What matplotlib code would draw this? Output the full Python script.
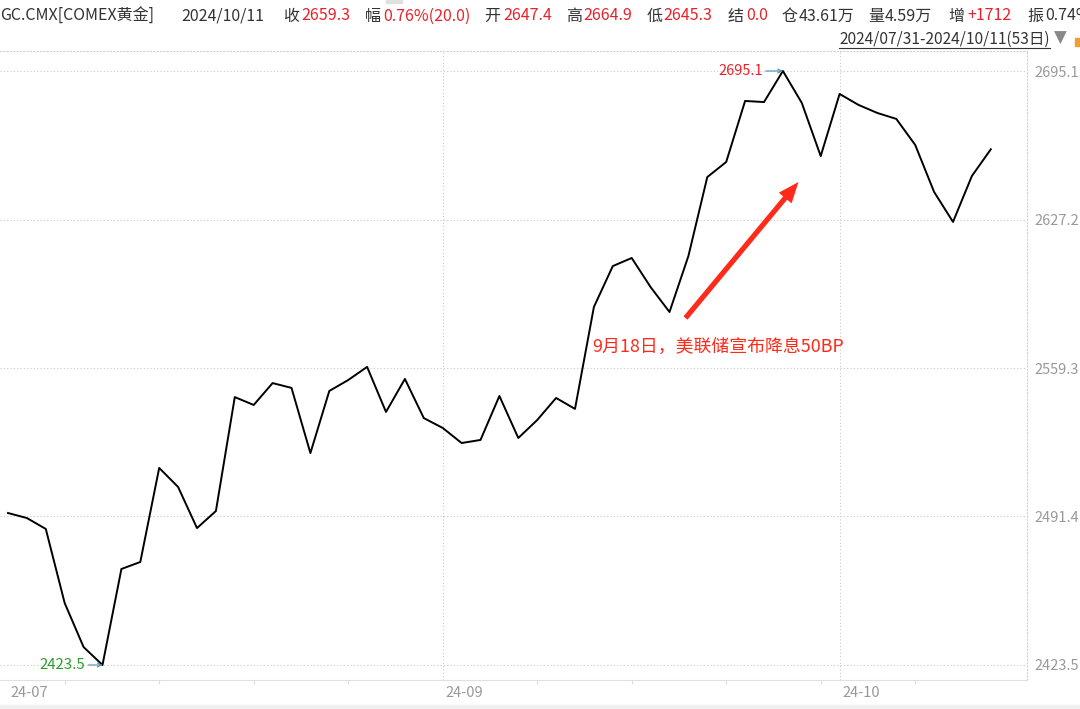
"""
COMEX gold (GC.CMX) daily close, 2024/07/31 - 2024/10/11.
"""

import numpy as np
import pandas as pd
import matplotlib
matplotlib.use('Agg')
import matplotlib.pyplot as plt
import matplotlib.transforms as mtransforms
from matplotlib.patches import Rectangle
from matplotlib.lines import Line2D

plt.rcParams['font.family'] = ['Noto Sans CJK SC', 'DejaVu Sans']

# trading days (53)
dates = pd.bdate_range('2024-07-31', '2024-10-11')
close = [
    2493.0, 2490.7, 2485.7, 2451.8, 2431.7, 2423.5, 2467.4, 2470.6, 2513.6, 2504.9,
    2486.1, 2493.9, 2546.0, 2542.4, 2552.4, 2550.2, 2520.4, 2548.8, 2553.8, 2559.8,
    2539.2, 2554.3, 2536.4, 2531.9, 2525.0, 2526.4, 2546.5, 2527.3, 2535.5, 2545.6,
    2540.6, 2587.2, 2605.9, 2609.6, 2596.3, 2584.9, 2610.5, 2646.6, 2653.5, 2681.4,
    2680.9, 2695.1, 2680.5, 2656.2, 2684.6, 2679.6, 2675.9, 2673.2, 2661.3, 2639.8,
    2626.1, 2647.1, 2659.3,
]
y_ticks = [2423.5, 2491.4, 2559.3, 2627.2, 2695.1]
month_labels = ['24-07', '24-09', '24-10']
month_idx = [0, 23, 44]
fed_day = '2024-09-18'
fed_text = '9月18日，美联储宣布降息50BP'

header = [
    ('GC.CMX[COMEX黄金]', '#333333'), ('2024/10/11', '#333333'),
    ('收', '#333333'), ('2659.3', '#e8222a'),
    ('幅', '#333333'), ('0.76%(20.0)', '#e8222a'),
    ('开', '#333333'), ('2647.4', '#e8222a'),
    ('高', '#333333'), ('2664.9', '#e8222a'),
    ('低', '#333333'), ('2645.3', '#e8222a'),
    ('结', '#333333'), ('0.0', '#e8222a'),
    ('仓', '#333333'), ('43.61万', '#333333'),
    ('量', '#333333'), ('4.59万', '#333333'),
    ('增', '#333333'), ('+1712', '#e8222a'),
    ('振', '#333333'), ('0.74%', '#333333'),
]
header_x = [0, 181, 283, 301, 365, 383, 484, 503, 566, 583, 647, 663,
            728, 746, 782, 799, 868, 885, 948, 967, 1027, 1045]
range_text = '2024/07/31-2024/10/11(53日)'

W, H = 1080, 709
fig = plt.figure(figsize=(W / 100, H / 100), dpi=100)
fig.patch.set_facecolor('white')

# plot area: pixels x 0..1027, y 51..680
ax = fig.add_axes([0, (H - 680) / H, 1027 / W, (680 - 51) / H])
x = np.arange(len(close))
ax.plot(x, close, color='black', lw=1.4)

step = 18.9
ax.set_xlim(-8 / step, (1027 - 8) / step)
ax.set_ylim(2423.5 - 15 / 2.187, 2695.1 + 20 / 2.187)

# grid
dots = (0, (1, 2))
for v in y_ticks:
    ax.axhline(v, color='#c8c8c8', lw=0.8, ls=dots, zorder=0)
for i in month_idx[1:]:
    ax.axvline(i, color='#c8c8c8', lw=0.8, ls=dots, zorder=0)

ax.spines['left'].set_visible(False)
for s in ['top', 'right']:
    ax.spines[s].set_color('#d0d0d0')
    ax.spines[s].set_linestyle(dots)
    ax.spines[s].set_linewidth(0.8)
ax.spines['bottom'].set_color('#e0e0e0')
ax.spines['bottom'].set_linewidth(0.8)

ax.yaxis.tick_right()
ax.set_yticks(y_ticks)
ax.set_yticklabels([f'{v:.1f}' for v in y_ticks], fontsize=10.5, color='#999999')
ax.tick_params(axis='y', length=0, pad=5)

ax.set_xticks(month_idx)
ax.set_xticklabels(month_labels, fontsize=10.5, color='#999999', ha='left')
ax.tick_params(axis='x', length=0, pad=4)
mondays = [i for i, d in enumerate(dates) if d.weekday() == 0 and i not in month_idx]
ax.set_xticks(mondays, minor=True)
ax.tick_params(axis='x', which='minor', length=3, color='#dddddd', width=0.8)

# shift x labels a touch right
offset = mtransforms.ScaledTranslation(2 / 72, 0, fig.dpi_scale_trans)
for lab in ax.get_xticklabels():
    lab.set_transform(lab.get_transform() + offset)

# max / min markers
imax, imin = int(np.argmax(close)), int(np.argmin(close))
ax.annotate(f'{close[imax]:.1f}', xy=(imax, close[imax]), xytext=(-20, 0),
            textcoords='offset pixels', ha='right', va='center', fontsize=10.5,
            color='#e8222a',
            arrowprops=dict(arrowstyle='->', color='#4a90b0', lw=0.8,
                            shrinkA=0, shrinkB=0, mutation_scale=7))
ax.annotate(f'{close[imin]:.1f}', xy=(imin, close[imin]), xytext=(-17, 0),
            textcoords='offset pixels', ha='right', va='center', fontsize=10.8,
            color='#2a9d2a',
            arrowprops=dict(arrowstyle='->', color='#4a90b0', lw=0.8,
                            shrinkA=0, shrinkB=0, mutation_scale=7))

# Fed cut annotation anchored to the 9/18 close
ifed = int(np.where(dates == pd.Timestamp(fed_day))[0][0])
fig.canvas.draw()
px, py = ax.transData.transform((ifed, close[ifed]))
ax.annotate('', xy=(px + 129, py + 130), xycoords='figure pixels',
            xytext=(px + 16, py - 6), textcoords='figure pixels',
            arrowprops=dict(arrowstyle='simple,head_length=1.0,head_width=0.8,tail_width=0.25',
                            color='#ff2a1a', lw=0, shrinkA=0, shrinkB=0,
                            mutation_scale=15))
ax.annotate(fed_text, xy=(px, py), xycoords='figure pixels',
            xytext=(px - 77, py - 35), textcoords='figure pixels',
            ha='left', va='center', fontsize=12.9, color='#ff2a1a')

# header line
for (t, c), hx in zip(header, header_x):
    fig.text(hx / W, 1 - 16 / H, t, fontsize=11.5, color=c, ha='left', va='center')
fig.text(839 / W, 1 - 39 / H, range_text, fontsize=11.2, color='#333333',
         ha='left', va='center')
fig.add_artist(Line2D([839 / W, 1050 / W], [1 - 48 / H, 1 - 48 / H],
                      color='#333333', lw=0.8))
fig.text(1054 / W, 1 - 38 / H, '▼', fontsize=12, color='#888888', ha='left',
         va='center', family='DejaVu Sans')
fig.add_artist(Rectangle((1075 / W, 1 - 46 / H), 6 / W, 8 / H, color='#f0a030',
                         transform=fig.transFigure))
fig.add_artist(Rectangle((386 / W, 1 - 3 / H), 16 / W, 3 / H, color='#e0e0e0',
                         transform=fig.transFigure))

# bottom strip
fig.add_artist(Rectangle((0, 0), 1, 4 / H, color='#f0f0f0',
                         transform=fig.transFigure))

fig.savefig('out.png', dpi=100)
